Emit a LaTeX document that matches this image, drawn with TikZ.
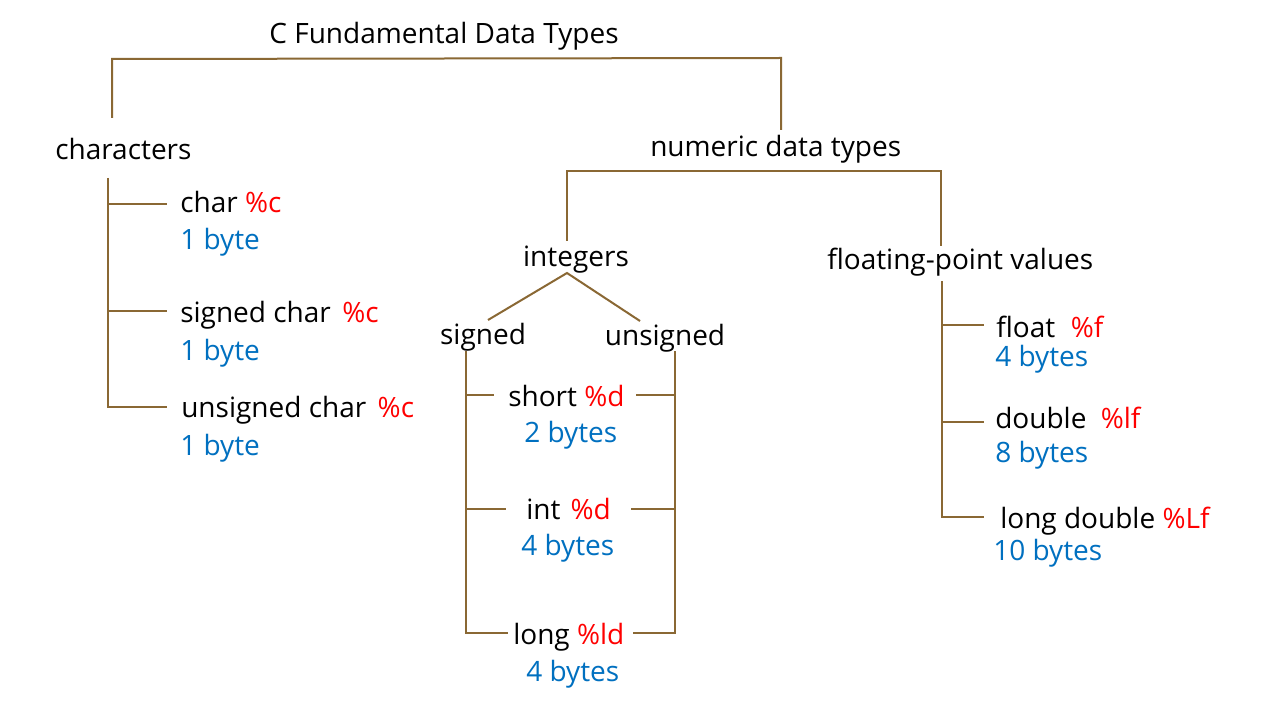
\documentclass[tikz,border=0pt]{standalone}
\usepackage{fontspec}
\setmainfont{Open Sans}
\definecolor{brn}{RGB}{138,104,52}
\definecolor{fmt}{RGB}{255,0,0}
\definecolor{sz}{RGB}{0,112,192}
\begin{document}
\begin{tikzpicture}[x=0.75pt,y=-0.75pt,
  lbl/.style={inner sep=0pt,yshift=-1.5pt,font=\fontsize{21pt}{24pt}\selectfont},
  lw/.style={lbl,anchor=base west},
  lc/.style={lbl,anchor=base},
  bytes/.style={lw,text=sz},
  br/.style={draw=brn,line width=1.5pt}]
\useasboundingbox[fill=white] (0,0) rectangle (1280,720);
% nodes
\node[lc] (title) at (444,42) {C Fundamental Data Types};
\node[lw] (chars) at (55,158) {characters};
\node[lw] (numeric) at (650,155) {numeric data types};
\node[lw] (char1) at (180,211) {char \textcolor{fmt}{\%c}};
\node[bytes] (b1) at (180,247) {1 byte};
\node[lw] (char2) at (180,320) {signed char\hspace{0.15em} \textcolor{fmt}{\%c}};
\node[bytes] (b2) at (180,358) {1 byte};
\node[lw] (char3) at (181,415) {unsigned char\hspace{0.15em} \textcolor{fmt}{\%c}};
\node[bytes] (b3) at (180,453) {1 byte};
\node[lc] (integers) at (576,265) {integers};
\node[lw] (floating) at (827,267) {floating-point values};
\node[lc] (signed) at (483,342) {signed};
\node[lc] (unsigned) at (665,343) {unsigned};
\node[lw] (short) at (508,404) {short \textcolor{fmt}{\%d}};
\node[bytes] (sb) at (524,440) {2 bytes};
\node[lw] (int) at (526,517) {int\hspace{0.1em} \textcolor{fmt}{\%d}};
\node[bytes] (ib) at (521,553) {4 bytes};
\node[lw] (long) at (513,642) {long \textcolor{fmt}{\%ld}};
\node[bytes] (lb) at (526,679) {4 bytes};
\node[lw] (float) at (996,335) {float\hspace{0.3em} \textcolor{fmt}{\%f}};
\node[bytes] (fb) at (995,364) {4 bytes};
\node[lw] (double) at (995,426) {double\hspace{0.25em} \textcolor{fmt}{\%lf}};
\node[bytes] (db) at (995,460) {8 bytes};
\node[lw] (ldouble) at (1000,526) {long double \textcolor{fmt}{\%Lf}};
\node[bytes] (ldb) at (993,558) {10 bytes};
% junction coordinates
\coordinate (tl) at (112,59);
\coordinate (tr) at (781,58);
\coordinate (charsEnd) at (112,118);
\coordinate (numTop) at (781,130);
\coordinate (cTop) at (108,178);
\coordinate (c1) at (167,204);
\coordinate (c2) at (167,311);
\coordinate (c3) at (167,407);
\coordinate (nl) at (567,171);
\coordinate (nr) at (941,171);
\coordinate (intTop) at (567,241);
\coordinate (fpTop) at (941,246);
\coordinate (fpBot) at (942,281);
\coordinate (apex) at (567,273);
\coordinate (sEnd) at (488,320);
\coordinate (uEnd) at (640,321);
\coordinate (sTop) at (466,351);
\coordinate (uTop) at (675,351);
\coordinate (sh1) at (494,395);
\coordinate (sh2) at (636,395);
\coordinate (in1) at (506,509);
\coordinate (in2) at (631,509);
\coordinate (lo1) at (508,633);
\coordinate (lo2) at (633,633);
\coordinate (fl) at (984,325);
\coordinate (dl) at (984,422);
\coordinate (ll) at (984,517);
% connectors
\draw[br] (charsEnd) -- (tl) -- (tr) -- (numTop);
\draw[br] (cTop) -- (cTop |- c3) -- (c3);
\draw[br] (cTop |- c1) -- (c1);
\draw[br] (cTop |- c2) -- (c2);
\draw[br] (intTop) -- (nl) -- (nr) -- (fpTop);
\draw[br] (sEnd) -- (apex) -- (uEnd);
\draw[br] (sTop) -- (sTop |- lo1) -- (lo1);
\draw[br] (sTop |- sh1) -- (sh1);
\draw[br] (sTop |- in1) -- (in1);
\draw[br] (uTop) -- (uTop |- lo2) -- (lo2);
\draw[br] (uTop |- sh2) -- (sh2);
\draw[br] (uTop |- in2) -- (in2);
\draw[br] (fpBot) -- (fpBot |- ll) -- (ll);
\draw[br] (fpBot |- fl) -- (fl);
\draw[br] (fpBot |- dl) -- (dl);
\end{tikzpicture}
\end{document}
